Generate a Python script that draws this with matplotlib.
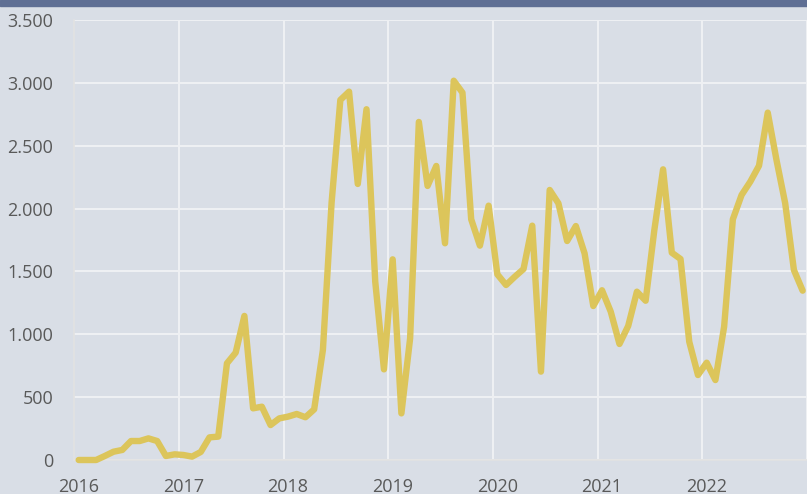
import matplotlib
matplotlib.use("Agg")
import matplotlib.pyplot as plt
from matplotlib.patches import Rectangle
import numpy as np

years = ['2016', '2017', '2018', '2019', '2020', '2021', '2022']
values = [
    0, 0, 0, 32, 66, 80, 151, 151, 172, 151, 32, 45,                       # 2016
    40, 27, 64, 180, 186, 769, 854, 1146, 411, 424, 278, 331,             # 2017
    345, 366, 340, 403, 875, 2050, 2864, 2930, 2196, 2790, 1419, 721,     # 2018
    1596, 371, 968, 2689, 2180, 2339, 1724, 3017, 2922, 1915, 1705, 2023, # 2019
    1477, 1392, 1458, 1519, 1864, 703, 2148, 2042, 1742, 1861, 1644, 1225,  # 2020
    1350, 1180, 923, 1066, 1339, 1267, 1830, 2312, 1649, 1599, 941, 676,  # 2021
    774, 636, 1061, 1915, 2108, 2214, 2341, 2763, 2387, 2042, 1511, 1347, # 2022
]
y_ticks = [0, 500, 1000, 1500, 2000, 2500, 3000, 3500]

BG = '#d9dee6'
GRID = '#eef0f3'
LINE = '#dcc55b'
TXT = '#595959'
BAND = '#5f6f94'

plt.rcParams['font.family'] = ['Open Sans', 'DejaVu Sans']

fig = plt.figure(figsize=(8.07, 4.94), dpi=100, facecolor=BG)
W, H = 807, 494
ax = fig.add_axes([74.3 / W, (H - 460) / H, 1 - 74.3 / W, 440 / H])
ax.set_facecolor(BG)

x = np.arange(len(values))
ax.plot(x, values, color=LINE, lw=4.6, solid_joinstyle='round',
        solid_capstyle='round', clip_on=False, zorder=3)

ax.set_xlim(-0.5, 83.0)
ax.set_ylim(0, 3500)

ax.set_yticks(y_ticks)
ax.set_yticklabels([f"{v:,}".replace(",", ".") for v in y_ticks])

# year boundaries as major ticks (grid), labels at first month
ax.set_xticks([12 * k - 0.5 for k in range(1, len(years) + 1)])
ax.set_xticklabels([])
ax.set_xticks([12 * k for k in range(len(years))], minor=True)
ax.set_xticklabels(years, minor=True)

ax.grid(True, which='major', color=GRID, lw=1.5, zorder=1)
ax.tick_params(axis='both', which='both', length=0, labelsize=13, colors=TXT)
ax.tick_params(axis='y', pad=15)
ax.tick_params(axis='x', which='minor', pad=13)

for s in ['top', 'right']:
    ax.spines[s].set_visible(False)
for s in ['left', 'bottom']:
    ax.spines[s].set_color('#e2e2e2')
    ax.spines[s].set_linewidth(1.2)

fig.add_artist(Rectangle((0, 1 - 6 / H), 1, 6 / H, transform=fig.transFigure,
                         color=BAND, zorder=5))

fig.savefig('out.png', dpi=100, facecolor=BG)
